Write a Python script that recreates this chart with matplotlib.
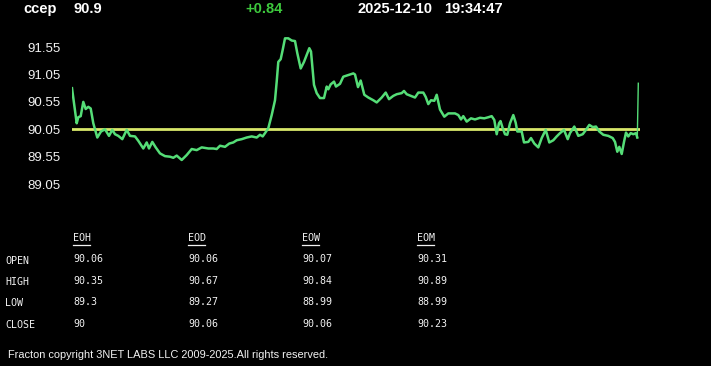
import matplotlib

matplotlib.use("Agg")
import matplotlib.pyplot as plt

# ---------------------------------------------------------------- data ---
SYMBOL = "ccep"
LAST = "90.9"
CHANGE = "+0.84"
STAMP_DATE = "2025-12-10"
STAMP_TIME = "19:34:47"
REF_LEVEL = 90.05

# intraday position (sample index across the session) and price, 10 per row
t = [0, 4.7, 6.3, 8.7, 11.3, 13.7, 16.3, 18.7, 21.3, 25.3,
     29, 33, 37, 40.3, 43, 46.3, 50.3, 54.7, 58, 63,
     66.3, 71.3, 74.7, 77, 80.3, 83.7, 88, 93, 98, 101.3,
     104.7, 109.7, 114.7, 119.7, 124.7, 129.7, 136.3, 141.3, 144.7, 148,
     153, 157.3, 161.3, 164.7, 169.7, 174.7, 179.7, 184.7, 188, 190.7,
     193, 196.3, 199.7, 203, 204.7, 206.3, 208.7, 210.7, 213, 216.3,
     219.7, 223, 225.3, 228.7, 232, 237.3, 239, 242, 244.7, 248,
     252, 254.7, 256.3, 258.7, 262, 264, 268, 271.3, 276.3, 281.3,
     283, 286, 288.7, 292.3, 296.3, 301.3, 304.7, 309.7, 313.7, 317,
     321.3, 324.7, 329.7, 332, 334.7, 339, 343, 346.3, 351.3, 353.7,
     356.3, 359, 362.3, 364.7, 368, 372.3, 376.3, 383, 386.3, 389,
     391.3, 394.7, 399, 403, 408, 412.3, 416.3, 419.7, 422.3, 424.7,
     427, 428.5, 430.7, 433, 435.3, 438, 441.3, 443.7, 445.3, 449.7,
     452, 456.3, 459, 462.3, 466.3, 469.7, 473.7, 477.3, 481.3, 484.7,
     488, 492, 495.7, 498, 502.3, 506.3, 510.7, 514, 517.3, 520.7,
     524, 527.3, 531.3, 536.3, 540.7, 543, 545.3, 547.3, 549.7, 552,
     554, 556.3, 558.7, 561.3, 564, 565.3, 566.3]
price = [90.80, 90.16, 90.27, 90.29, 90.55, 90.42, 90.46, 90.43, 90.16, 89.90,
         90.01, 90.05, 89.93, 90.04, 89.96, 89.93, 89.87, 90.04, 89.93, 89.92,
         89.84, 89.70, 89.81, 89.70, 89.82, 89.72, 89.61, 89.56, 89.55, 89.53,
         89.57, 89.49, 89.58, 89.69, 89.67, 89.72, 89.70, 89.70, 89.69, 89.75,
         89.73, 89.79, 89.81, 89.85, 89.87, 89.90, 89.92, 89.90, 89.95, 89.92,
         89.98, 90.07, 90.31, 90.58, 90.92, 91.28, 91.33, 91.50, 91.71, 91.71,
         91.67, 91.66, 91.44, 91.16, 91.28, 91.53, 91.47, 90.86, 90.71, 90.62,
         90.62, 90.83, 90.78, 90.87, 90.92, 90.83, 90.88, 91.01, 91.04, 91.07,
         91.05, 90.82, 90.94, 90.68, 90.63, 90.58, 90.54, 90.63, 90.72, 90.60,
         90.66, 90.69, 90.71, 90.75, 90.69, 90.66, 90.63, 90.72, 90.72, 90.64,
         90.51, 90.58, 90.57, 90.68, 90.41, 90.28, 90.34, 90.34, 90.31, 90.23,
         90.29, 90.19, 90.25, 90.23, 90.26, 90.25, 90.27, 90.29, 90.22, 89.96,
         90.16, 90.20, 90.07, 89.96, 89.95, 90.16, 90.31, 90.17, 90.01, 90.01,
         89.81, 89.82, 89.89, 89.79, 89.72, 89.89, 90.04, 89.81, 89.85, 89.92,
         89.98, 90.04, 89.87, 89.98, 90.10, 89.93, 89.96, 90.04, 90.13, 90.09,
         90.10, 90.01, 89.95, 89.93, 89.89, 89.82, 89.64, 89.73, 89.60, 89.82,
         89.99, 89.92, 89.98, 89.96, 89.98, 89.90, 90.89]

y_ticks = [89.05, 89.55, 90.05, 90.55, 91.05, 91.55]

periods = ["EOH", "EOD", "EOW", "EOM"]
row_names = ["OPEN", "HIGH", "LOW", "CLOSE"]
open_vals = ["90.06", "90.06", "90.07", "90.31"]
high_vals = ["90.35", "90.67", "90.84", "90.89"]
low_vals = ["89.3", "89.27", "88.99", "88.99"]
close_vals = ["90", "90.06", "90.06", "90.23"]

FOOTER = "Fracton copyright 3NET LABS LLC 2009-2025.All rights reserved."

# ---------------------------------------------------------------- style ---
BG = "black"
LINE_C = "#55dd77"
REF_C = "#d8e86a"
TXT_C = "#f2f2f2"
UP_C = "#3dc83d"
SANS = ["Liberation Sans", "DejaVu Sans"]
MONO = ["DejaVu Sans Mono"]

W, H = 711, 366
fig = plt.figure(figsize=(W / 100, H / 100), dpi=100, facecolor=BG)

# price panel
ax = fig.add_axes([72 / W, 1 - 195 / H, 568 / W, 165 / H], facecolor=BG)
ax.plot(t[:-1], price[:-1], color=LINE_C, lw=1.8, solid_joinstyle="round",
        zorder=3)
ax.plot(t[-2:], price[-2:], color=LINE_C, lw=1.0, zorder=4)
ax.axhline(REF_LEVEL, color=REF_C, lw=2.0, zorder=2)
ax.set_xlim(0, 568)
ax.set_ylim(88.851, 91.862)
ax.set_xticks([])
ax.set_yticks(y_ticks)
ax.set_yticklabels([f"{v:.2f}" for v in y_ticks], family=SANS, fontsize=9.5,
                   color=TXT_C)
ax.tick_params(axis="y", length=0, pad=8)
for s in ax.spines.values():
    s.set_visible(False)


def px(x, y):
    return x / W, 1 - y / H


# header line
hdr = dict(family=SANS, fontsize=10.5, fontweight="bold", va="center",
           ha="left")
fig.text(*px(23, 9), SYMBOL, color="white", **hdr)
fig.text(*px(73, 9), LAST, color="white", **hdr)
fig.text(*px(245, 9), CHANGE, color=UP_C, **hdr)
fig.text(*px(357, 9), STAMP_DATE, color="white", **hdr)
fig.text(*px(444, 9), STAMP_TIME, color="white", **hdr)

# OHLC table
col_x = [73, 188, 302, 417]
row_y = [259, 280.5, 302, 324]
cell = dict(family=MONO, fontsize=7.2, color=TXT_C, va="center", ha="left")
for cx, name in zip(col_x, periods):
    fig.text(*px(cx, 238), name, **cell)
    fig.add_artist(plt.Line2D([cx / W, (cx + 17) / W],
                              [1 - 244.5 / H, 1 - 244.5 / H],
                              color=TXT_C, lw=0.9))
for ry, name, vals in zip(row_y, row_names,
                          [open_vals, high_vals, low_vals, close_vals]):
    fig.text(*px(5, ry + 1.5), name, **cell)
    for cx, v in zip(col_x, vals):
        fig.text(*px(cx, ry), v, **cell)

fig.text(*px(8, 355), FOOTER, family=SANS, fontsize=7.9, color=TXT_C,
         va="center", ha="left")

fig.savefig("out.png", dpi=100, facecolor=BG)
